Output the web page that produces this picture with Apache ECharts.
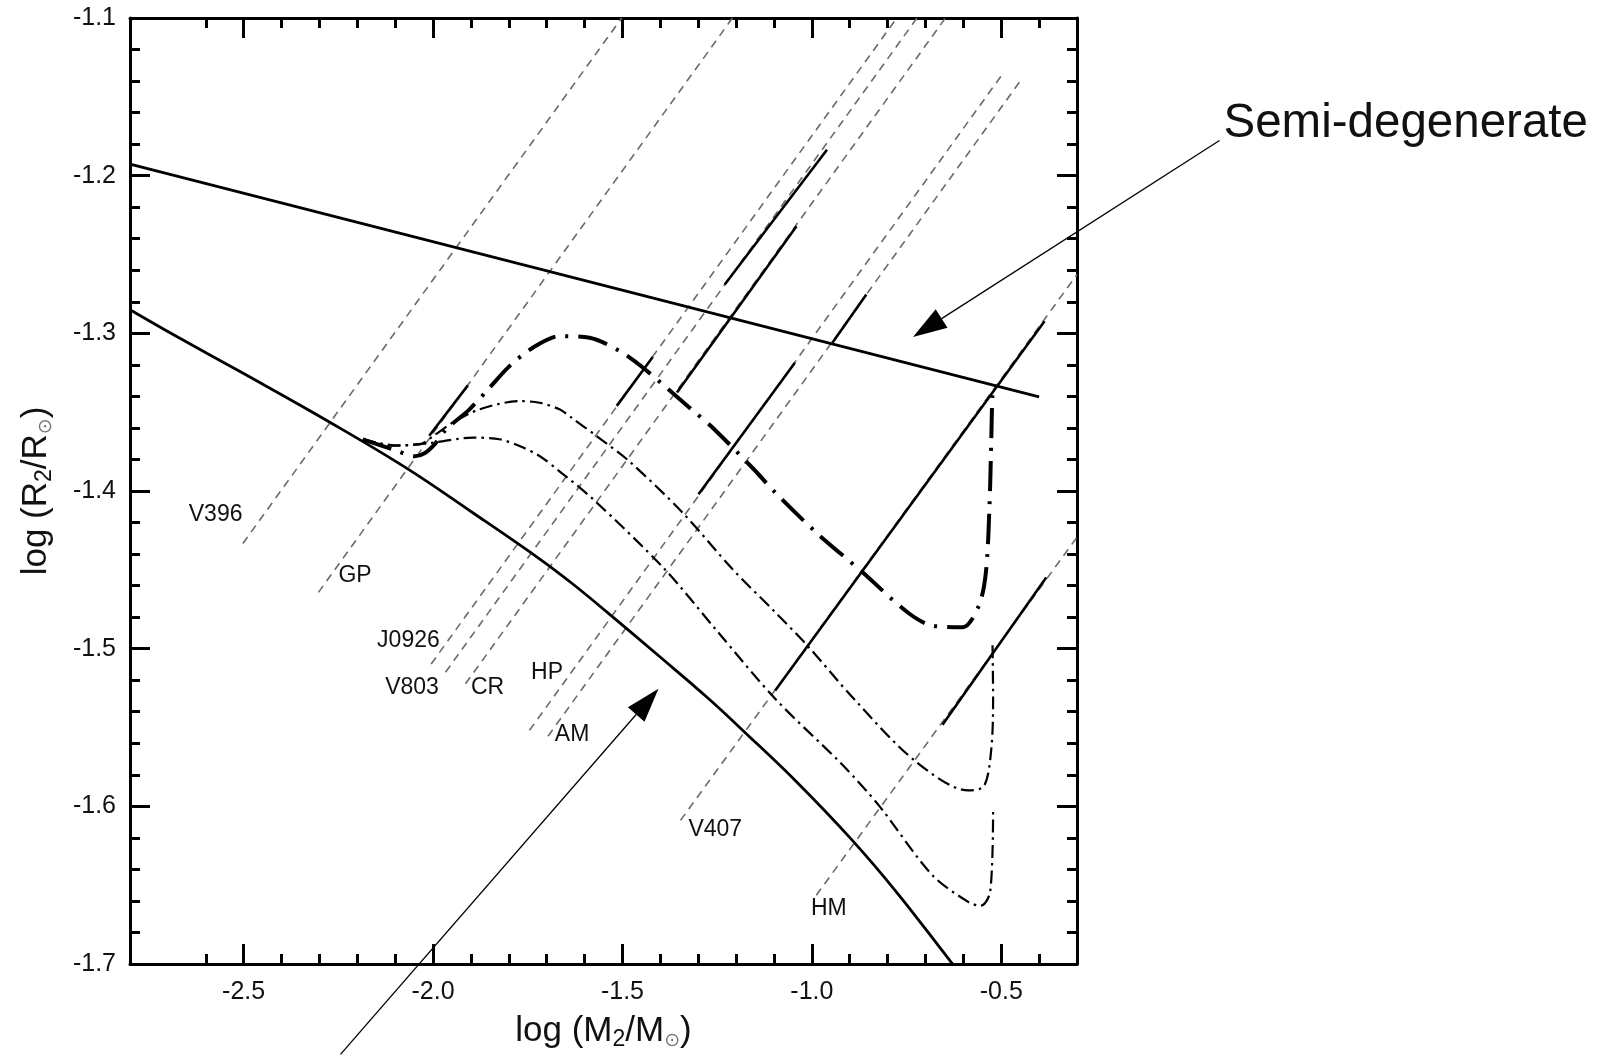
<!DOCTYPE html>
<html><head><meta charset="utf-8">
<script src="https://cdn.jsdelivr.net/npm/echarts@6/dist/echarts.min.js"></script>
<style>html,body{margin:0;padding:0;background:#fff}#c{width:1610px;height:1056px}</style>
</head><body><div id="c"></div>
<script>
// ---------- axis ticks ----------
const xMajorTicks = [-2.5, -2.0, -1.5, -1.0, -0.5];
const xMinorTicks = [-2.6, -2.4, -2.3, -2.2, -2.1, -1.9, -1.8, -1.7, -1.6, -1.4, -1.3, -1.2, -1.1, -0.9, -0.8, -0.7, -0.6, -0.4];
const yMajorTicks = [-1.7, -1.6, -1.5, -1.4, -1.3, -1.2, -1.1];
const yMinorTicks = [-1.68, -1.66, -1.64, -1.62, -1.58, -1.56, -1.54, -1.52, -1.48, -1.46, -1.44, -1.42,
  -1.38, -1.36, -1.34, -1.32, -1.28, -1.26, -1.24, -1.22, -1.18, -1.16, -1.14, -1.12];

// ---------- curves ----------
const upperLine = [[-2.8, -1.1927], [-0.40, -1.3403]];
const lowerCurve = [[-2.8, -1.285], [-2.673, -1.3025], [-2.5, -1.3255], [-2.268, -1.357], [-2.07, -1.3855],
  [-1.9, -1.413], [-1.719, -1.443], [-1.631, -1.459], [-1.54, -1.477], [-1.402, -1.505], [-1.276, -1.531],
  [-1.1815, -1.552], [-1.04, -1.5845], [-0.899, -1.620], [-0.776, -1.6545], [-0.635, -1.698], [-0.628, -1.7]];
const trackA = [[-2.1854, -1.3672], [-2.0991, -1.3742], [-2.0489, -1.378], [-2.0225, -1.3761], [-1.9961, -1.3704],
  [-1.9653, -1.3609], [-1.9037, -1.3482], [-1.8509, -1.3345], [-1.7981, -1.3208], [-1.7367, -1.3091],
  [-1.6662, -1.3018], [-1.5869, -1.3028], [-1.5067, -1.3113], [-1.4455, -1.3218], [-1.3182, -1.3482],
  [-1.2665, -1.3588], [-1.1532, -1.3862], [-1.0967, -1.401], [-0.9835, -1.4274], [-0.8705, -1.4506],
  [-0.7477, -1.4769], [-0.6817, -1.4854], [-0.6017, -1.4864], [-0.5592, -1.4728], [-0.5405, -1.4516],
  [-0.531, -1.4094], [-0.5263, -1.3672], [-0.5234, -1.3398], [-0.5205, -1.3355]];
const trackB = [[-2.1854, -1.3672], [-2.1017, -1.371], [-2.0355, -1.3704], [-2.0006, -1.3653], [-1.9478, -1.3566],
  [-1.8774, -1.3482], [-1.7717, -1.343], [-1.719, -1.344], [-1.6662, -1.3482], [-1.6345, -1.3535],
  [-1.5685, -1.3651], [-1.4832, -1.3809], [-1.3417, -1.4136], [-1.2097, -1.4495], [-1.0967, -1.4769],
  [-1.0117, -1.4981], [-0.8892, -1.5318], [-0.729, -1.5709], [-0.5875, -1.5899], [-0.5453, -1.5871],
  [-0.5262, -1.5635], [-0.5215, -1.5318], [-0.5231, -1.497]];
const trackC = [[-2.1854, -1.3672], [-2.1017, -1.3713], [-2.0006, -1.3693], [-1.895, -1.3661], [-1.8246, -1.3672],
  [-1.7717, -1.3715], [-1.719, -1.3778], [-1.6662, -1.3875], [-1.5775, -1.4052], [-1.3889, -1.4495],
  [-1.2474, -1.4896], [-1.0967, -1.5318], [-0.9175, -1.5741], [-0.8232, -1.5994], [-0.6817, -1.6437],
  [-0.5875, -1.6606], [-0.5547, -1.6631], [-0.5292, -1.6542], [-0.5215, -1.6036]];

// ---------- constant-period lines (dashed) ----------
const periodNames = ['V396', 'GP', 'J0926', 'V803', 'CR', 'HP', 'AM', 'V407', 'HM'];
const periodStart = [[-2.502, -1.4333], [-2.3026, -1.4643], [-2.0049, -1.5097], [-1.967, -1.5149], [-1.9143, -1.5223],
  [-1.7453, -1.5518], [-1.6965, -1.5555], [-1.3467, -1.6089], [-0.9882, -1.6564]];
const periodEnd = [[-1.502, -1.1], [-1.2096, -1.1], [-0.7758, -1.1], [-0.7224, -1.1], [-0.6474, -1.1],
  [-0.494, -1.1347], [-0.4499, -1.14], [-0.3, -1.2627], [-0.3, -1.4293]];
const periodLabelPos = [[-2.574, -1.4147], [-2.206, -1.4538], [-2.065, -1.4949], [-2.0555, -1.525], [-1.856, -1.525],
  [-1.699, -1.5149], [-1.633, -1.5544], [-1.255, -1.6148], [-0.955, -1.6648]];

// ---------- solid segments along period lines ----------
const segStart = [[-2.010, -1.365], [-1.515, -1.346], [-1.230, -1.269], [-1.356, -1.3376], [-1.2992, -1.402],
  [-0.9457, -1.306], [-1.0967, -1.5266], [-0.6551, -1.5483]];
const segEnd = [[-1.908, -1.333], [-1.420, -1.315], [-0.960, -1.1836], [-1.0405, -1.2321], [-1.0447, -1.3186],
  [-0.8562, -1.2754], [-0.3858, -1.2923], [-0.3813, -1.4548]];

// ---------- annotations (data coordinates) ----------
const annotText = 'Semi-degenerate';
const annotTextPos = [0.0868, -1.1671];
const arrow1 = [[0.0762, -1.1777], [-0.733, -1.3023]];
const arrow2 = [[-2.2443, -1.7573], [-1.4048, -1.5255]];

const FONT = 'Liberation Sans, Arial, Helvetica, sans-serif';
const series = [];
function lineSeries(data, style, z) {
  return { type: 'line', data: data, symbol: 'none', showSymbol: false, silent: true, animation: false,
    lineStyle: style, z: z, xAxisIndex: 0, yAxisIndex: 0 };
}
periodNames.forEach((n, i) => {
  series.push(lineSeries([periodStart[i], periodEnd[i]], { color: '#6a6a6a', width: 1.6, type: [8, 6] }, 2));
});
segStart.forEach((s, i) => {
  series.push(lineSeries([s, segEnd[i]], { color: '#000', width: 2.6 }, 4));
});
series.push(lineSeries(upperLine, { color: '#000', width: 2.8 }, 5));
series.push(Object.assign(lineSeries(lowerCurve, { color: '#000', width: 2.8 }, 5), { smooth: 0.4 }));
series.push(Object.assign(lineSeries(trackA, { color: '#000', width: 4, type: [30, 10, 3, 10] }, 6), { smooth: 0.3 }));
series.push(Object.assign(lineSeries(trackB, { color: '#000', width: 2.2, type: [13, 5, 2.5, 5] }, 6), { smooth: 0.3 }));
series.push(Object.assign(lineSeries(trackC, { color: '#000', width: 2.2, type: [13, 5, 2.5, 5] }, 6), { smooth: 0.3 }));
series.push({
  type: 'scatter', symbolSize: 0, silent: true, animation: false, z: 7,
  itemStyle: { opacity: 1 },
  data: periodNames.map((n, i) => ({ name: n, value: periodLabelPos[i] })),
  label: { show: true, position: 'inside', formatter: '{b}', fontSize: 23, color: '#111', opacity: 1, fontFamily: FONT }
});

function xAx(pos, ticks, len, labels, lineShow) {
  return { type: 'value', min: -2.8, max: -0.3, position: pos, gridIndex: 0,
    axisLine: { show: lineShow, onZero: false, lineStyle: { color: '#000', width: 3 } },
    axisTick: { show: true, inside: true, length: len, customValues: ticks, lineStyle: { color: '#000', width: 3 } },
    axisLabel: labels ? { show: true, customValues: ticks, formatter: v => v.toFixed(1), fontSize: 25, color: '#111', margin: 16, fontFamily: FONT } : { show: false },
    splitLine: { show: false } };
}
function yAx(pos, ticks, len, labels, lineShow) {
  return { type: 'value', min: -1.7, max: -1.1, position: pos, gridIndex: 0,
    axisLine: { show: lineShow, onZero: false, lineStyle: { color: '#000', width: 3 } },
    axisTick: { show: true, inside: true, length: len, customValues: ticks, lineStyle: { color: '#000', width: 3 } },
    axisLabel: labels ? { show: true, customValues: ticks, formatter: v => v.toFixed(1), fontSize: 25, color: '#111', margin: 14, fontFamily: FONT } : { show: false },
    splitLine: { show: false } };
}
const titleStyle = { fontSize: 35, color: '#111', fontFamily: FONT, lineHeight: 40,
  rich: { s: { fontSize: 23, lineHeight: 13, verticalAlign: 'bottom', color: '#111', fontFamily: FONT },
          o: { fontSize: 19, lineHeight: 10, verticalAlign: 'bottom', color: '#777', fontFamily: 'DejaVu Sans' } } };
const xMain = xAx('bottom', xMajorTicks, 20, true, true);
xMain.name = 'log (M{s|2}/M{o|⊙})';
xMain.nameLocation = 'middle';
xMain.nameGap = 47;
xMain.nameTextStyle = titleStyle;
const yMain = yAx('left', yMajorTicks, 20, true, true);
yMain.name = 'log (R{s|2}/R{o|⊙})';
yMain.nameLocation = 'middle';
yMain.nameGap = 74;
yMain.nameTextStyle = titleStyle;

const option = {
  backgroundColor: '#fff',
  animation: false,
  grid: { left: 130, top: 18, width: 947, height: 948, containLabel: false },
  xAxis: [xMain, xAx('bottom', xMinorTicks, 10, false, false), xAx('top', xMajorTicks, 20, false, true), xAx('top', xMinorTicks, 10, false, false)],
  yAxis: [yMain, yAx('left', yMinorTicks, 10, false, false), yAx('right', yMajorTicks, 20, false, true), yAx('right', yMinorTicks, 10, false, false)],
  series: series
};
const chart = echarts.init(document.getElementById('c'), null, { renderer: 'canvas' });
chart.setOption(option);

function px(p) { return chart.convertToPixel({ xAxisIndex: 0, yAxisIndex: 0 }, p); }
function arrow(a, headLen, headW) {
  const t = px(a[0]), h = px(a[1]);
  const dx = h[0] - t[0], dy = h[1] - t[1], L = Math.hypot(dx, dy);
  const ux = dx / L, uy = dy / L, nx = -uy, ny = ux;
  const bx = h[0] - ux * headLen, by = h[1] - uy * headLen;
  return [
    { type: 'line', silent: true, z: 100, shape: { x1: t[0], y1: t[1], x2: bx, y2: by }, style: { stroke: '#000', lineWidth: 1.3 } },
    { type: 'polygon', silent: true, z: 100, shape: { points: [[h[0], h[1]], [bx + nx * headW, by + ny * headW], [bx - nx * headW, by - ny * headW]] }, style: { fill: '#000' } }
  ];
}
const tp = px(annotTextPos);
chart.setOption({
  graphic: [].concat(
    arrow(arrow1, 34, 11),
    arrow(arrow2, 34, 11),
    [{ type: 'text', silent: true, z: 100, x: tp[0], y: tp[1],
       style: { text: annotText, fontSize: 47.5, fill: '#111', fontFamily: FONT, align: 'left', verticalAlign: 'middle' } }]
  )
});
</script></body></html>
